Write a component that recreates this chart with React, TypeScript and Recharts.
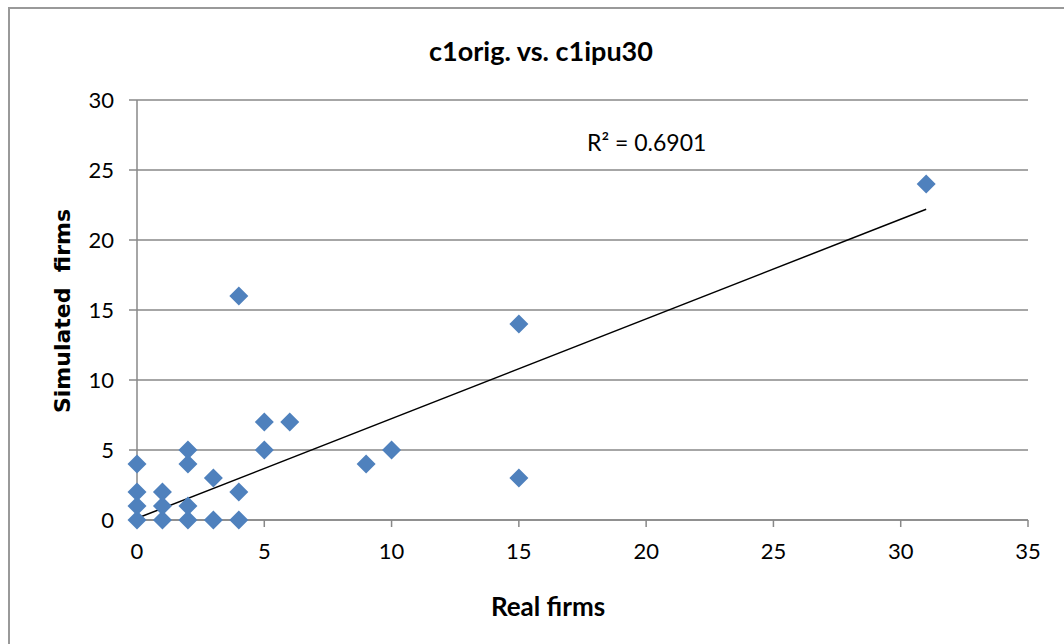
import React from 'react';
import { ScatterChart, Scatter, XAxis, YAxis, CartesianGrid, ReferenceLine } from 'recharts';

const realFirms = [0, 0, 0, 0, 1, 1, 1, 2, 2, 2, 2, 3, 3, 4, 4, 4, 5, 5, 6, 9, 10, 15, 15, 31];
const simulatedFirms = [0, 1, 2, 4, 0, 1, 2, 0, 1, 4, 5, 0, 3, 0, 2, 16, 5, 7, 7, 4, 5, 14, 3, 24];
const trendStart = { x: 0, y: 0.12 };
const trendEnd = { x: 31, y: 22.2 };
const xTicks = [0, 5, 10, 15, 20, 25, 30, 35];
const yTicks = [0, 5, 10, 15, 20, 25, 30];

const points = realFirms.map((x, i) => ({ x, y: simulatedFirms[i] }));

const BLUE = '#4F81BD';
const GRID = '#888888';
const FONT = 'Lato, "Open Sans", sans-serif';

const Diamond = (props: any) => {
  const { cx, cy } = props;
  const r = 9.5;
  return <polygon points={`${cx},${cy - r} ${cx + r},${cy} ${cx},${cy + r} ${cx - r},${cy}`} fill={BLUE} />;
};

const tickFont = { fontFamily: FONT, fontSize: 22, fill: '#000' };

export default function App() {
  return (
    <div style={{ position: 'absolute', left: 0, top: 0, width: 1064, height: 644, background: '#fff', overflow: 'hidden' }}>
      <div style={{ position: 'absolute', left: 8, top: 7, width: 1080, height: 660, border: '2px solid #999', boxSizing: 'border-box' }} />
      <ScatterChart width={1064} height={644} margin={{ top: 100, right: 36, bottom: 84, left: 77 }}>
        <CartesianGrid horizontal vertical={false} stroke={GRID} strokeWidth={1.5} />
        <XAxis
          type="number"
          dataKey="x"
          domain={[0, 35]}
          ticks={xTicks}
          height={40}
          stroke={GRID}
          strokeWidth={1.5}
          tickSize={7}
          tick={tickFont}
          tickMargin={16}
        />
        <YAxis
          type="number"
          dataKey="y"
          domain={[0, 30]}
          ticks={yTicks}
          width={60}
          stroke={GRID}
          strokeWidth={1.5}
          tickSize={8}
          tick={tickFont}
          tickMargin={15}
        />
        <Scatter data={points} fill={BLUE} shape={Diamond} isAnimationActive={false} />
        <ReferenceLine segment={[trendStart, trendEnd]} stroke="#000" strokeWidth={1.5} ifOverflow="visible" />
      </ScatterChart>
      <div style={{ position: 'absolute', left: 0, width: 1082, top: 34, textAlign: 'center', fontFamily: FONT, fontWeight: 700, fontSize: 27 }}>
        c1orig. vs. c1ipu30
      </div>
      <div style={{ position: 'absolute', left: 587, top: 128, fontFamily: FONT, fontSize: 23 }}>
        R² = 0.6901
      </div>
      <div style={{ position: 'absolute', left: 448, width: 200, top: 590, textAlign: 'center', fontFamily: FONT, fontWeight: 700, fontSize: 26 }}>
        Real firms
      </div>
      <div style={{ position: 'absolute', left: 62, top: 311, transform: 'translate(-50%, -50%) rotate(-90deg)', whiteSpace: 'pre', fontFamily: '"DejaVu Sans", sans-serif', fontWeight: 700, fontSize: 22 }}>
        {'Simulated  firms'}
      </div>
    </div>
  );
}
